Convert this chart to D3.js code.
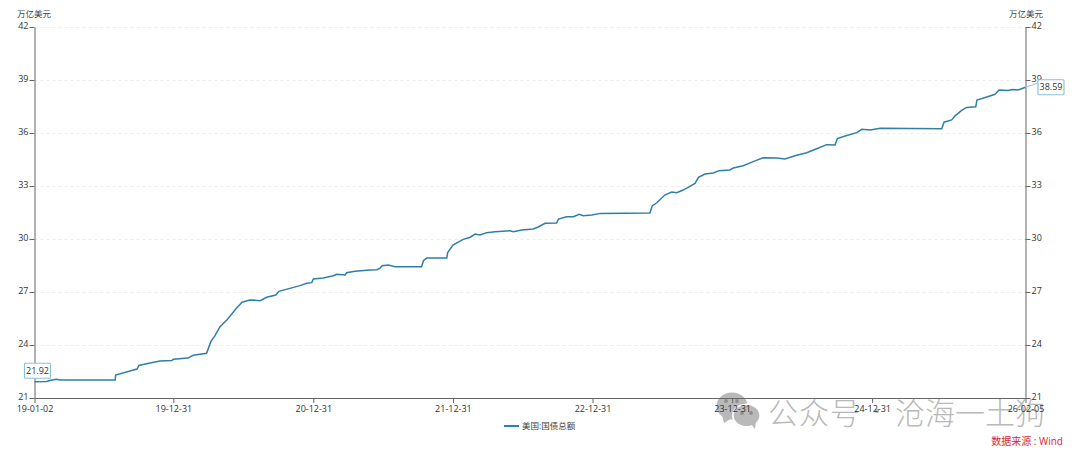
<!DOCTYPE html>
<html lang="zh"><head><meta charset="utf-8">
<script src="https://cdn.jsdelivr.net/npm/d3@7"></script>
<style>
html,body{margin:0;padding:0;background:#fff}
svg{display:block}
text{font-family:"Open Sans","Noto Sans CJK SC",sans-serif}
</style></head><body>
<svg id="c" width="1080" height="455"></svg>
<script>
const seriesName="美国:国债总额";
const unitLabel="万亿美元";
const sourceLabel="数据来源 : Wind";
const watermark1="公众号";
const watermark2="沧海一土狗";
const yTicks=[21,24,27,30,33,36,39,42];
const xTickDates=["2019-01-02","2019-12-31","2020-12-31","2021-12-31","2022-12-31","2023-12-31","2024-12-31","2026-02-05"];
const xTickLabels=["19-01-02","19-12-31","20-12-31","21-12-31","22-12-31","23-12-31","24-12-31","26-02-05"];
const dates=[
"2019-01-02","2019-02-03","2019-02-11","2019-02-28","2019-03-10","2019-08-01","2019-08-02","2019-09-27","2019-10-02","2019-10-31","2019-11-26","2019-12-27","2019-12-31",
"2020-02-07","2020-02-21","2020-03-27","2020-03-31","2020-04-07","2020-04-18","2020-05-01","2020-05-19","2020-06-14","2020-06-28","2020-07-18","2020-08-14","2020-08-31","2020-09-24","2020-10-02","2020-11-26","2020-12-14","2020-12-27","2020-12-31",
"2021-01-26","2021-02-21","2021-03-02","2021-03-24","2021-03-28","2021-04-19","2021-05-28","2021-06-15","2021-06-23","2021-06-29","2021-07-15","2021-08-02","2021-10-10","2021-10-15","2021-10-23","2021-12-15","2021-12-17","2021-12-31",
"2022-01-27","2022-02-14","2022-02-27","2022-03-12","2022-03-29","2022-04-20","2022-05-29","2022-06-07","2022-06-29","2022-07-29","2022-08-11","2022-08-29","2022-09-28","2022-10-03","2022-10-24","2022-11-11","2022-11-26","2022-12-07","2022-12-29",
"2023-01-20","2023-05-30","2023-06-05","2023-06-17","2023-07-08","2023-07-26","2023-08-08","2023-08-25","2023-09-25","2023-10-04","2023-10-21","2023-11-12","2023-11-27","2023-12-25",
"2024-01-03","2024-01-29","2024-02-24","2024-03-21","2024-04-26","2024-05-17","2024-06-17","2024-07-13","2024-08-08","2024-09-03","2024-09-25","2024-10-01","2024-10-30","2024-11-21","2024-12-04","2024-12-26",
"2025-01-21","2025-07-01","2025-07-07","2025-07-27","2025-08-05","2025-08-22","2025-09-04","2025-09-28","2025-10-01","2025-10-31","2025-11-17","2025-11-28","2025-12-22",
"2026-01-02","2026-01-17","2026-02-05"];
const values=[
21.92,21.93,21.99,22.06,22.02,22.02,22.30,22.64,22.84,22.98,23.09,23.12,23.19,
23.26,23.42,23.53,23.77,24.19,24.53,25.04,25.41,26.11,26.42,26.55,26.51,26.70,26.83,27.04,27.36,27.49,27.53,27.74,
27.79,27.92,28.00,27.96,28.09,28.17,28.25,28.26,28.34,28.49,28.53,28.43,28.43,28.77,28.92,28.92,29.22,29.66,
29.98,30.10,30.28,30.23,30.36,30.41,30.47,30.41,30.51,30.57,30.68,30.89,30.91,31.13,31.26,31.26,31.40,31.32,31.36,
31.45,31.47,31.87,32.05,32.49,32.66,32.62,32.77,33.15,33.49,33.68,33.74,33.87,33.91,
34.02,34.15,34.38,34.60,34.58,34.53,34.74,34.88,35.11,35.34,35.32,35.68,35.89,36.02,36.21,36.17,
36.27,36.24,36.61,36.74,36.97,37.28,37.45,37.49,37.87,38.07,38.19,38.43,38.41,
38.46,38.43,38.59];

const parse=d3.timeParse("%Y-%m-%d");
const L=34.5,R=1025.5,T=27,B=398;
const data=dates.map((d,i)=>({d:parse(d),v:values[i]}));
const x=d3.scaleTime().domain([parse(xTickDates[0]),parse(xTickDates[xTickDates.length-1])]).range([L,R]);
const y=d3.scaleLinear().domain([21,42]).range([B,T]);
const svg=d3.select("#c");
const lineCol="#2f7fa8",axisCol="#666",txt="#333";

// watermark, under the chart
const wm=svg.append("g");
const wc="#b9b9b9";
wm.append("ellipse").attr("cx",732).attr("cy",406).attr("rx",15.5).attr("ry",13.5).attr("fill",wc);
wm.append("path").attr("d","M722 415 L724 423 L732 418Z").attr("fill",wc);
wm.append("ellipse").attr("cx",746.5).attr("cy",415.5).attr("rx",14.5).attr("ry",12).attr("fill","#fff");
wm.append("ellipse").attr("cx",746.5).attr("cy",415.5).attr("rx",12.8).attr("ry",10.5).attr("fill",wc);
wm.append("path").attr("d","M751 424 L755 429 L756 421Z").attr("fill",wc);
[[726,401],[737,401],[742,413],[751,413]].forEach(p=>wm.append("circle").attr("cx",p[0]).attr("cy",p[1]).attr("r",1.9).attr("fill","#8e8e8e"));
wm.append("text").attr("x",768).attr("y",424).attr("font-size",30).attr("letter-spacing",1).attr("fill",wc).attr("font-weight",300).text(watermark1);
wm.append("circle").attr("cx",877).attr("cy",411).attr("r",2.2).attr("fill",wc);
wm.append("text").attr("x",895).attr("y",424).attr("font-size",30).attr("fill",wc).attr("font-weight",300).text(watermark2);

// grid
svg.append("g").selectAll("line").data(yTicks.filter(t=>t!==21)).join("line")
 .attr("x1",L).attr("x2",R).attr("y1",d=>Math.round(y(d))+.5).attr("y2",d=>Math.round(y(d))+.5)
 .attr("stroke","#ececec").attr("stroke-dasharray","3,3");

// axes
function style(g){g.selectAll("path").attr("stroke",axisCol);g.selectAll("line").attr("stroke",axisCol);
 g.selectAll("text").attr("fill",txt).attr("font-size",9);}
svg.append("g").attr("transform",`translate(${L},0)`).call(d3.axisLeft(y).tickValues(yTicks).tickFormat(d3.format("d")).tickSize(5).tickSizeOuter(0).tickPadding(1)).call(style).selectAll("text").attr("dy","0.18em");
svg.append("g").attr("transform",`translate(${R},0)`).call(d3.axisRight(y).tickValues(yTicks).tickFormat(d3.format("d")).tickSize(5).tickSizeOuter(0).tickPadding(1)).call(style).selectAll("text").attr("dy","0.18em");
svg.append("g").attr("transform",`translate(0,${B})`).call(d3.axisBottom(x).tickValues(xTickDates.map(parse)).tickFormat((d,i)=>xTickLabels[i]).tickSize(5).tickSizeOuter(0).tickPadding(3)).call(style);

svg.append("text").attr("x",34).attr("y",17).attr("text-anchor","middle").attr("font-size",8.5).attr("fill","#444").text(unitLabel);
svg.append("text").attr("x",1026).attr("y",17).attr("text-anchor","middle").attr("font-size",8.5).attr("fill","#444").text(unitLabel);

// series
svg.append("path").datum(data).attr("fill","none").attr("stroke",lineCol).attr("stroke-width",1.5)
 .attr("d",d3.line().x(d=>x(d.d)).y(d=>y(d.v)));

// end labels
const first=data[0],last=data[data.length-1];
svg.append("path").attr("fill","none").attr("stroke","#8fc0da")
 .attr("d",`M${x(last.d)} ${y(last.v)}L${x(last.d)+12} ${y(last.v)-4}`);
function tag(cx,cy,w,label){
 svg.append("rect").attr("x",cx-w/2).attr("y",cy-7.5).attr("width",w).attr("height",15).attr("rx",1).attr("fill","#fff").attr("stroke","#8fc0da").attr("stroke-width",1.2);
 svg.append("text").attr("x",cx).attr("y",cy+3.2).attr("text-anchor","middle").attr("font-size",9).attr("fill",txt).text(label);
}
tag(x(first.d)+3,y(first.v)-11,26,first.v.toFixed(2));
tag(x(last.d)+25.5,y(last.v),26,last.v.toFixed(2));

// legend
svg.append("line").attr("x1",504).attr("x2",519).attr("y1",426).attr("y2",426).attr("stroke",lineCol).attr("stroke-width",2);
svg.append("text").attr("x",522).attr("y",429).attr("font-size",8.5).attr("fill","#444").text(seriesName);
svg.append("text").attr("x",1063).attr("y",445).attr("text-anchor","end").attr("font-size",10).attr("fill","#d9252e").text(sourceLabel);
</script></body></html>
